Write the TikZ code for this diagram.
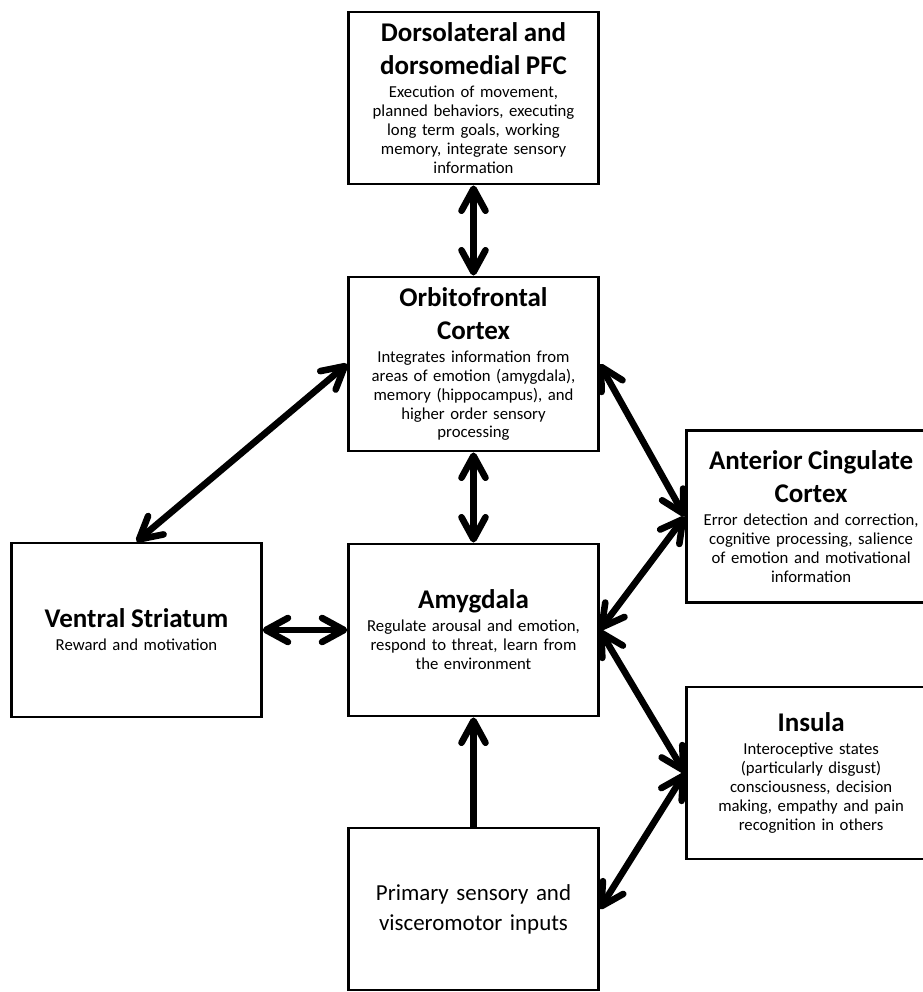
\documentclass[tikz,border=0pt]{standalone}
\usepackage{fontspec}
\setmainfont{Carlito}
\usepackage{tikz}
\usetikzlibrary{arrows.meta}
\newcommand{\bodyfont}{\fontsize{11.9}{13.5}\selectfont}
\newcommand{\titlefont}{\fontsize{19.2}{23.5}\selectfont\bfseries}
\newcommand{\primfont}{\fontsize{16.3}{21.3}\selectfont}
\newcommand{\hd}[1]{{\titlefont #1\par}\vspace{0.1cm}}
\tikzstyle{region} = [rectangle, draw=black, line width=2.1pt, minimum width=6.175cm, minimum height=4.3cm, text width=6cm, align=center, font=\bodyfont]
\tikzstyle{arrow} = [line width=4.7pt, >={Straight Barb[length=0.55cm, width=0.6cm, line cap=round, line join=round]}, <->]
\tikzstyle{arrowup} = [line width=4.7pt, >={Straight Barb[length=0.55cm, width=0.6cm, line cap=round, line join=round]}, ->]

\begin{document}
\begin{tikzpicture}[node distance=6.65cm]
		\useasboundingbox (-11.8375,2.45) rectangle (11.2125,-22.35);
		\node (dlpfc) [region] {\hd{Dorsolateral and\\dorsomedial PFC}Execution of movement,\\planned behaviors, executing\\long term goals, working\\memory, integrate sensory\\information};
		\node (ofc) [region, below of=dlpfc, minimum height=4.35cm] {\hd{Orbitofrontal\\Cortex}Integrates information from\\areas of emotion (amygdala),\\memory (hippocampus), and\\higher order sensory\\processing};
		\node (amyg) [region, below of=ofc] {\hd{Amygdala}Regulate arousal and emotion,\\respond to threat, learn from\\the environment};
		\node (prim) [region, below of=amyg, yshift=-0.325cm, minimum height=4.05cm, font=\primfont] {Primary sensory and\\visceromotor inputs};
		\node (vs) [region, left of=amyg, xshift=-1.775cm, minimum height=4.35cm] {\hd{Ventral Striatum}Reward and motivation};
		\node (acc) [region, right of=ofc, xshift=1.79cm, yshift=-3.8125cm] {\hd{Anterior Cingulate\\Cortex}Error detection and correction,\\cognitive processing, salience\\of emotion and motivational\\information};
		\node (ins) [region, below of=acc, yshift=0.2375cm] {\hd{Insula}Interoceptive states\\(particularly disgust)\\consciousness, decision\\making, empathy and pain\\recognition in others};
		\draw [arrow] (dlpfc) -- (ofc);
		\draw [arrow] (ofc) -- (amyg);
		\draw [arrow] (vs) -- (amyg);
		\draw [arrow] (ofc.west) -- (vs.north);
		\draw [arrow] (ofc.east) -- (acc.west);
		\draw [arrow] (acc.west) -- (amyg.east);
		\draw [arrow] (amyg.east) -- (ins.west);
		\draw [arrow] (ins.west) -- (prim.east);
		\draw [arrowup] (prim) -- (amyg);
\end{tikzpicture}
\end{document}
